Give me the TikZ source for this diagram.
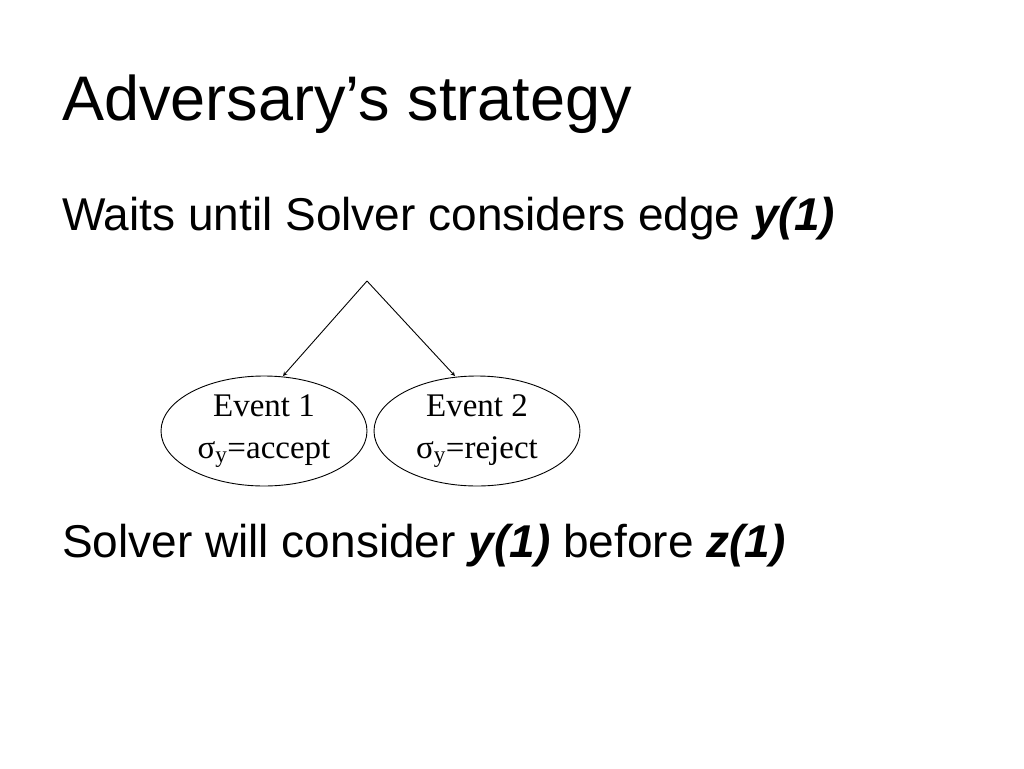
\documentclass[tikz,border=0pt]{standalone}
\usepackage{fontspec}
\setmainfont{Liberation Sans}
\newfontfamily\tnr{Liberation Serif}
\usetikzlibrary{shapes.geometric}
\begin{document}
\begin{tikzpicture}[x=1pt,y=-1pt,
  ev/.style={draw,line width=0.9pt,ellipse,minimum width=206pt,minimum height=110pt,inner sep=0pt,align=center,font=\tnr\fontsize{33}{42}\selectfont},
  txt/.style={anchor=base west,inner sep=0pt}]
\useasboundingbox (0,0) rectangle (1024,768);
\node[txt,font=\fontsize{63}{70}\selectfont] (title) at (62,120) {Adversary’s strategy};
\node[txt,font=\fontsize{46}{52}\selectfont] (l1) at (62,230) {Waits until Solver considers edge \textbf{\textit{y(1)}}};
\node[txt,font=\fontsize{46}{52}\selectfont] (l2) at (62,557) {Solver will consider \textbf{\textit{y(1)}} before \textbf{\textit{z(1)}}};
\node[ev] (e1) at (264,431) {Event 1\\σ\textsubscript{y}=accept};
\node[ev] (e2) at (477,431) {Event 2\\σ\textsubscript{y}=reject};
\coordinate (top) at (367,281);
\draw[-stealth,line width=0.9pt] (top) -- (283,376);
\draw[-stealth,line width=0.9pt] (top) -- (455,376);
\end{tikzpicture}
\end{document}
